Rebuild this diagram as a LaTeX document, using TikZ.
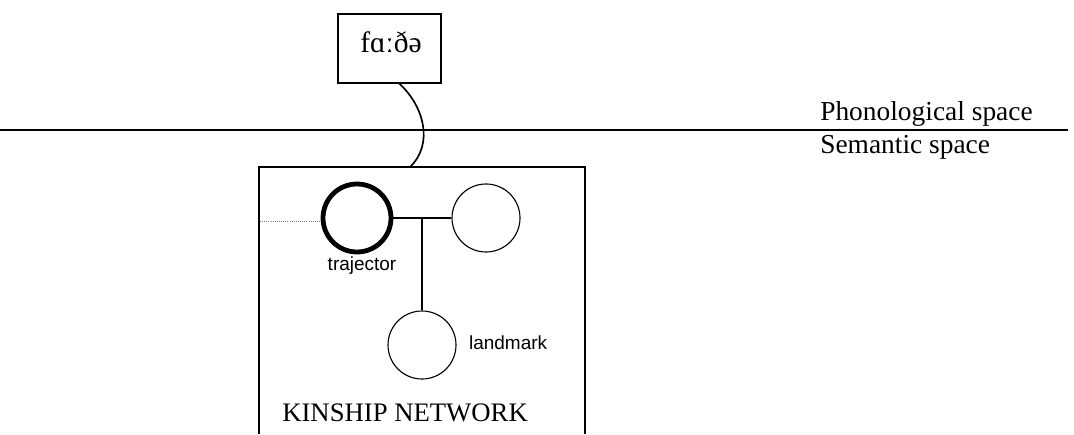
\documentclass[tikz,border=0pt]{standalone}
\usepackage{fontspec}
\setmainfont{Liberation Serif}
\newfontfamily\labelfont{Liberation Sans}
\usepackage{tikz}

\begin{document}
\begin{tikzpicture}[
  role/.style={circle,draw,inner sep=0pt,minimum size=1.7cm,line width=0.8pt},
  tag/.style={font=\labelfont\fontsize{13.5}{15}\selectfont},
  space/.style={font=\fontsize{19.5}{24}\selectfont,anchor=base west,inner sep=0pt}]

\useasboundingbox (0,0) rectangle (26.85,10.85);

% the phonological form
\node (word) at (9.74,9.64) [draw,line width=0.9pt,minimum width=2.575cm,minimum height=1.725cm] {};
\node (form) at (9.0,9.525) [anchor=base west,inner sep=0pt,font=\fontsize{21}{25}\selectfont] {fɑːðə};

% the two spaces
\coordinate (lineleft) at (0,7.6);
\coordinate (lineright) at (26.7,7.6);
\draw [line width=1.1pt] (lineleft) -- (lineright);

\node (phon) at (20.5,7.83) [space] {Phonological space};
\node (sem) at (20.5,7.02) [space] {Semantic space};

% the kinship frame, open at the bottom
\coordinate (frametop) at (10.25,6.675);
\draw [line width=0.9pt] (6.475,0) |- (14.625,6.675) -- (14.625,0);

\draw [line width=1.2pt] ([xshift=0.24cm]word.south) .. controls (10.6,8.2) and (10.85,7.25) .. (frametop);

% roles
\node (traj) at (8.925,5.4) [role,line width=3.4pt] {};
\node (other) at (12.15,5.4) [role] {};
\node (land) at (10.55,2.225) [role] {};

\coordinate (junction) at (traj.east -| land.north);
\coordinate (dotend) at (6.5,5.32);

\draw [line width=0.9pt] (traj.east) -- (other.west);
\draw [line width=0.9pt] (junction) -- (land.north);
\draw [gray,densely dotted,line width=0.5pt] (dotend) -- (traj.west |- dotend);

\node (trajtag) at (9.05,4.2) [tag] {trajector};
\node (landtag) at (11.72,2.275) [right,tag,inner sep=0pt] {landmark};

\node (kin) at (7.05,0.31) [anchor=base west,inner sep=0pt,font=\fontsize{19}{23}\selectfont] {KINSHIP NETWORK};

\end{tikzpicture}
\end{document}
